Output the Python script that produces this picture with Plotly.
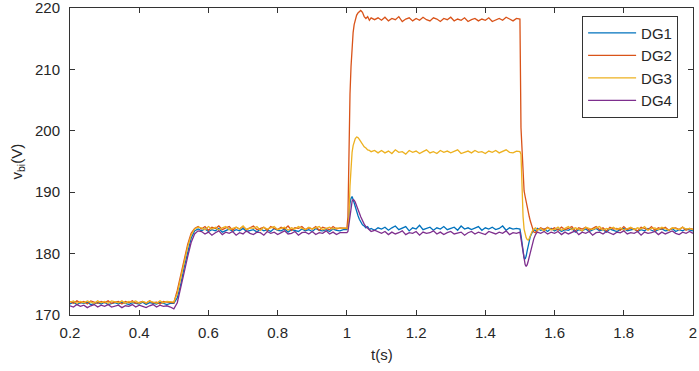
import numpy as np
import plotly.graph_objects as go

# ---- time grid (s) ----
t_seg1 = list(np.round(0.20 + 0.01 * np.arange(80), 3))          # 0.20 .. 0.99
t_seg2 = [1.000, 1.003, 1.006, 1.009, 1.012, 1.015, 1.018, 1.021, 1.024, 1.028,
          1.032, 1.036, 1.040, 1.045, 1.050, 1.055, 1.060, 1.065, 1.070, 1.080, 1.090]
t_seg3 = list(np.round(1.10 + 0.01 * np.arange(40), 3))          # 1.10 .. 1.49
t_seg4 = [1.500, 1.503, 1.506, 1.509, 1.512, 1.515, 1.518, 1.521, 1.524, 1.527,
          1.530, 1.535, 1.540, 1.545, 1.550, 1.560, 1.570, 1.580, 1.590]
t_seg5 = list(np.round(1.60 + 0.01 * np.arange(41), 3))          # 1.60 .. 2.00
t = t_seg1 + t_seg2 + t_seg3 + t_seg4 + t_seg5

# ---- series values (V) ----
dg1 = [
    171.8, 172.1, 171.7, 172.0, 171.9, 172.1, 171.7, 171.9, 172.0, 171.8,
    172.1, 171.7, 171.9, 172.0, 171.8, 172.1, 171.9, 171.7, 172.0, 171.9,
    171.8, 172.1, 171.7, 172.0, 171.9, 171.8, 172.1, 171.9, 171.7, 171.9,
    171.9, 172.8, 175.0, 177.8, 180.3, 182.5, 183.7, 184.0,
    183.7, 184.0, 183.6, 183.9, 183.7, 184.1, 183.5, 183.8, 184.0, 183.6,
    183.9, 183.7, 184.1, 183.6, 183.8, 183.9, 183.5, 184.0, 183.7, 183.9,
    183.6, 184.1, 183.8, 183.7, 184.0, 183.5, 183.9, 183.8, 183.6, 184.0,
    183.7, 183.9, 183.6, 184.1, 183.8, 183.7, 183.9, 183.6, 184.0, 183.8,
    183.7, 183.9,
    183.9, 184.3, 186.5, 188.2, 189.0, 189.3, 188.8, 188.2, 187.5, 186.8,
    186.2, 185.6, 185.2, 184.7, 184.5, 184.2, 184.4, 183.9, 184.1, 183.8, 184.2,
    184.0, 184.3, 183.8, 184.2, 184.5, 183.9, 184.1, 184.4, 183.7, 184.2,
    184.0, 184.6, 183.9, 184.1, 184.3, 183.8, 184.2, 184.0, 184.4, 183.9,
    184.1, 184.3, 183.8, 184.5, 184.0, 184.2, 183.9, 184.1, 184.4, 183.8,
    184.2, 184.0, 184.3, 183.9, 184.1, 184.5, 183.8, 184.2, 184.0, 184.1,
    184.0, 183.0, 181.5, 180.2, 179.3, 179.1, 179.6, 180.5, 181.5, 182.3,
    182.8, 183.4, 183.9, 183.7, 184.1, 183.8, 184.0, 183.6, 184.1,
    183.7, 184.0, 183.6, 183.9, 183.8, 184.1, 183.5, 183.9, 183.7, 184.0,
    183.6, 183.8, 184.1, 183.7, 183.9, 183.5, 184.0, 183.8, 183.6, 183.9,
    184.1, 183.7, 183.8, 184.0, 183.6, 183.9, 183.7, 184.1, 183.8, 183.6,
    183.9, 184.0, 183.7, 183.8, 184.1, 183.6, 183.9, 183.7, 184.0, 183.8,
    183.7,
]
dg2 = [
    172.2, 171.9, 172.3, 172.0, 172.2, 171.8, 172.3, 172.1, 171.9, 172.2,
    172.0, 172.3, 171.9, 172.1, 172.2, 171.8, 172.2, 172.0, 172.3, 171.9,
    172.1, 172.2, 171.9, 172.3, 172.0, 172.1, 171.8, 172.2, 172.1, 172.0,
    172.0, 174.0, 176.5, 179.0, 181.5, 183.3, 184.1, 184.4,
    184.0, 184.4, 183.8, 184.3, 184.1, 184.5, 183.9, 184.2, 184.4, 183.8,
    184.3, 184.0, 184.4, 183.9, 184.2, 184.5, 183.9, 184.1, 184.3, 183.8,
    184.4, 184.1, 183.9, 184.3, 184.0, 184.5, 183.8, 184.2, 184.1, 184.4,
    183.9, 184.2, 184.0, 184.4, 183.8, 184.3, 184.1, 183.9, 184.4, 184.0,
    184.2, 184.1,
    184.1, 186.0, 198.0, 206.0, 210.5, 214.0, 216.0, 217.3, 218.2, 218.8,
    219.2, 219.5, 219.6, 219.3, 218.6, 218.3, 218.6, 218.0, 218.4, 218.1, 218.4,
    218.0, 218.5, 217.9, 218.3, 218.1, 218.6, 217.8, 218.2, 218.4, 217.9,
    218.3, 218.0, 218.5, 218.1, 217.9, 218.4, 218.2, 217.8, 218.3, 218.1,
    218.5, 217.9, 218.2, 218.0, 218.4, 217.8, 218.1, 218.3, 217.9, 218.2,
    218.0, 218.4, 217.8, 218.1, 218.3, 218.0, 218.5, 218.2, 217.9, 218.3,
    218.2, 200.5, 196.0, 192.0, 190.2, 189.3, 188.3, 187.5, 186.7, 186.0,
    185.3, 184.3, 183.5, 183.4, 183.8, 184.2, 183.9, 184.3, 183.9,
    184.2, 183.8, 184.3, 183.9, 184.1, 184.4, 183.7, 184.2, 184.0, 184.3,
    183.8, 184.1, 184.4, 183.9, 184.2, 183.7, 184.3, 184.0, 184.1, 183.8,
    184.4, 183.9, 184.2, 184.0, 183.7, 184.3, 184.1, 183.9, 184.4, 183.8,
    184.2, 184.0, 184.3, 183.8, 184.1, 184.2, 183.9, 184.3, 183.8, 184.1,
    184.0,
]
dg3 = [
    172.1, 172.3, 171.9, 172.2, 172.0, 172.3, 172.1, 171.9, 172.3, 172.0,
    172.2, 171.9, 172.3, 172.1, 172.0, 172.3, 171.9, 172.2, 172.1, 172.3,
    171.9, 172.2, 172.0, 172.3, 172.1, 171.9, 172.3, 172.0, 172.2, 172.1,
    172.1, 173.5, 176.0, 178.6, 181.1, 183.0, 184.0, 184.3,
    184.2, 183.9, 184.4, 184.0, 184.3, 183.8, 184.2, 184.4, 183.9, 184.1,
    184.3, 184.0, 184.5, 183.9, 184.2, 184.1, 184.4, 183.8, 184.3, 184.0,
    184.2, 184.4, 183.9, 184.1, 184.3, 183.8, 184.2, 184.0, 184.4, 184.1,
    183.9, 184.3, 184.0, 184.2, 184.4, 183.9, 184.1, 184.3, 184.0, 184.2,
    184.1, 184.2,
    184.2, 184.0, 186.0, 191.0, 194.5, 196.5, 197.6, 198.3, 198.7, 199.0,
    198.9, 198.6, 198.2, 197.8, 197.4, 197.2, 196.9, 196.8, 196.6, 196.8, 196.4,
    196.8, 196.4, 196.7, 196.3, 196.9, 196.5, 196.6, 196.2, 196.8, 196.5,
    196.7, 196.3, 196.6, 196.9, 196.4, 196.6, 196.3, 196.8, 196.5, 196.7,
    196.4, 196.6, 196.9, 196.3, 196.5, 196.7, 196.4, 196.8, 196.5, 196.6,
    196.3, 196.7, 196.5, 196.8, 196.4, 196.6, 196.9, 196.5, 196.4, 196.7,
    196.6, 196.2, 190.0, 186.0, 184.0, 183.2, 182.6, 182.3, 182.2, 182.5,
    183.0, 183.6, 184.0, 184.2, 183.8, 184.1, 183.7, 184.2, 183.9,
    183.9, 184.3, 183.8, 184.1, 184.4, 183.9, 184.2, 184.0, 183.7, 184.3,
    184.1, 183.9, 184.2, 184.4, 183.8, 184.1, 184.0, 184.3, 183.9, 184.2,
    183.8, 184.1, 184.3, 183.9, 184.2, 184.0, 184.4, 183.8, 184.1, 184.2,
    183.9, 184.3, 184.0, 183.8, 184.2, 184.1, 183.9, 184.3, 184.0, 184.1,
    183.9,
]
dg4 = [
    171.5, 171.3, 171.7, 171.4, 171.6, 171.2, 171.5, 171.7, 171.3, 171.6,
    171.4, 171.7, 171.3, 171.5, 171.6, 171.2, 171.5, 171.4, 171.7, 171.3,
    171.6, 171.4, 171.2, 171.5, 171.7, 171.3, 171.6, 171.4, 171.5, 171.3,
    171.0, 172.0, 174.3, 177.0, 179.5, 181.8, 183.2, 183.7,
    183.6, 183.2, 183.5, 183.0, 183.4, 183.7, 183.1, 183.5, 183.3, 183.6,
    183.0, 183.4, 183.2, 183.7, 183.3, 183.1, 183.5, 183.4, 183.0, 183.6,
    183.3, 183.5, 183.1, 183.4, 183.7, 183.2, 183.3, 183.6, 183.0, 183.4,
    183.5, 183.2, 183.6, 183.1, 183.4, 183.3, 183.7, 183.2, 183.5, 183.1,
    183.4, 183.4,
    183.4, 183.6, 184.8, 186.5, 187.8, 188.5, 188.8, 188.7, 188.4, 187.9,
    187.3, 186.6, 186.0, 185.3, 184.8, 184.4, 184.1, 183.9, 183.6, 183.8, 183.5,
    183.3, 183.6, 183.1, 183.5, 183.2, 183.4, 183.7, 183.1, 183.4, 183.3,
    183.6, 183.0, 183.5, 183.3, 183.4, 183.7, 183.2, 183.5, 183.1, 183.4,
    183.6, 183.2, 183.3, 183.5, 183.0, 183.4, 183.6, 183.2, 183.5, 183.3,
    183.1, 183.6, 183.4, 183.2, 183.5, 183.3, 183.7, 183.1, 183.4, 183.3,
    183.5, 182.5, 181.0, 179.8, 178.8, 178.2, 177.9, 178.2, 178.8, 179.5,
    180.3, 181.4, 182.4, 183.1, 183.5, 183.3, 183.6, 183.2, 183.5,
    183.3, 183.6, 183.1, 183.5, 183.2, 183.4, 183.7, 183.1, 183.5, 183.3,
    183.6, 183.0, 183.4, 183.5, 183.2, 183.6, 183.3, 183.1, 183.5, 183.4,
    183.7, 183.2, 183.4, 183.3, 183.6, 183.0, 183.5, 183.3, 183.4, 183.6,
    183.1, 183.5, 183.2, 183.4, 183.7, 183.3, 183.1, 183.5, 183.3, 183.6,
    183.3,
]

series_names = ["DG1", "DG2", "DG3", "DG4"]
series_colors = ["#0072BD", "#D95319", "#EDB120", "#7E2F8E"]
x_tickvals = [0.2, 0.4, 0.6, 0.8, 1.0, 1.2, 1.4, 1.6, 1.8, 2.0]
x_ticktext = ["0.2", "0.4", "0.6", "0.8", "1", "1.2", "1.4", "1.6", "1.8", "2"]
y_tickvals = [170, 180, 190, 200, 210, 220]

for name, s in zip(series_names, [dg1, dg2, dg3, dg4]):
    assert len(s) == len(t), f"{name}: {len(s)} vs {len(t)}"

fig = go.Figure()
for name, s, c in zip(series_names, [dg1, dg2, dg3, dg4], series_colors):
    fig.add_trace(go.Scatter(x=t, y=s, mode="lines", name=name,
                             line=dict(color=c, width=1.3)))

axis_color = "#333333"
font_fam = "Liberation Sans, Arial, sans-serif"
common = dict(showline=True, linecolor=axis_color, linewidth=1, mirror="ticks",
              ticks="inside", ticklen=5, tickcolor=axis_color, showgrid=False,
              zeroline=False, ticklabeloverflow="allow", automargin=False,
              tickfont=dict(family=font_fam, size=15, color="#262626"))

fig.update_xaxes(range=[0.2, 2.0], tickvals=x_tickvals, ticktext=x_ticktext,
                 ticklabelstandoff=4, **common)
fig.update_yaxes(range=[170, 220], tickvals=y_tickvals, ticklabelstandoff=6, **common)

fig.update_layout(
    width=699, height=371,
    margin=dict(l=70, r=6, t=8, b=56),
    paper_bgcolor="white", plot_bgcolor="white",
    font=dict(family=font_fam, color="#262626"),
    showlegend=True,
    legend=dict(x=0.822, y=0.975, xanchor="left", yanchor="top",
                bgcolor="white", bordercolor=axis_color, borderwidth=1,
                font=dict(family=font_fam, size=15, color="#262626"),
                itemwidth=48, tracegroupgap=0),
    annotations=[
        dict(text="t(s)", xref="paper", yref="paper", x=0.5, y=-0.13,
             xanchor="center", yanchor="middle", showarrow=False,
             font=dict(family=font_fam, size=15, color="#262626")),
        dict(text="v<sub>bi</sub>(V)", xref="paper", yref="paper", x=-0.085, y=0.5,
             xanchor="center", yanchor="middle", textangle=-90, showarrow=False,
             font=dict(family=font_fam, size=15, color="#262626")),
    ],
)

fig.write_html("out.html", config={"displayModeBar": False},
               post_script="document.body.style.margin='0';")
